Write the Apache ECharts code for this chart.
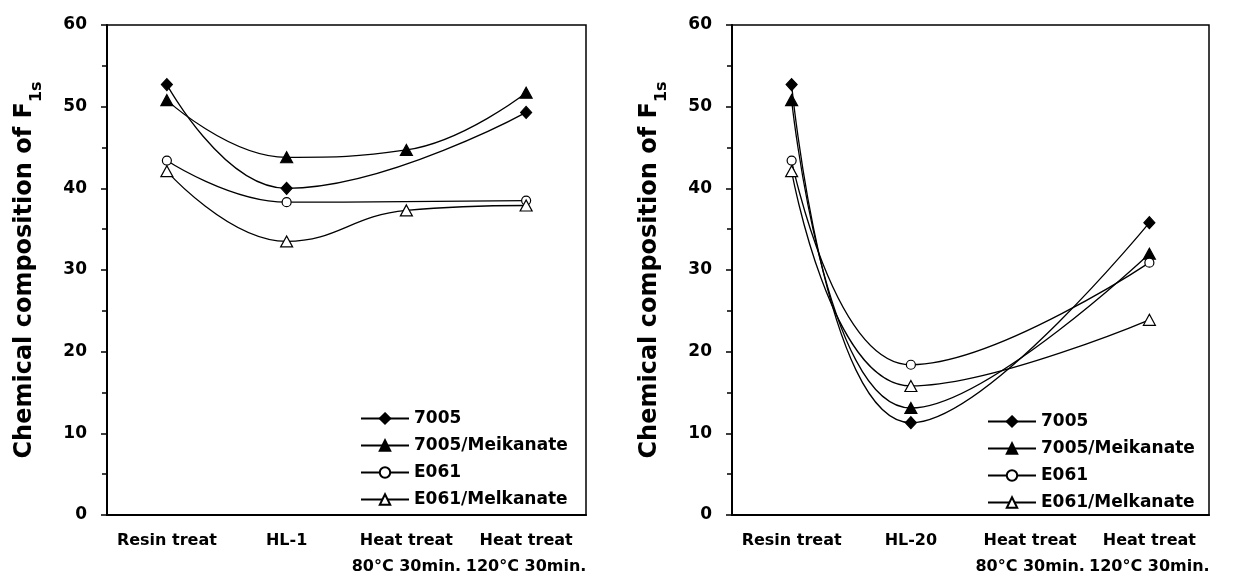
<!DOCTYPE html>
<html>
<head>
<meta charset="utf-8">
<script src="https://cdn.jsdelivr.net/npm/echarts@6/dist/echarts.min.js"></script>
<style>
html,body{margin:0;padding:0;background:#fff;}
#main{width:1245px;height:580px;}
</style>
</head>
<body>
<div id="main"></div>
<script>
// ---- data ----
var seriesNames = ['7005', '7005/Meikanate', 'E061', 'E061/Melkanate'];
var categoriesLeft = ['Resin treat', 'HL-1', 'Heat treat\n80°C 30min.', 'Heat treat\n120°C 30min.'];
var categoriesRight = ['Resin treat', 'HL-20', 'Heat treat\n80°C 30min.', 'Heat treat\n120°C 30min.'];
var yTicks = [0, 10, 20, 30, 40, 50, 60];

var left7005 = [52.7, 40.0, null, 49.3];
var left7005Meik = [50.8, 43.8, 44.7, 51.7];
var leftE061 = [43.4, 38.3, null, 38.5];
var leftE061Melk = [42.1, 33.5, 37.3, 37.9];

var right7005 = [52.7, 11.3, null, 35.8];
var right7005Meik = [50.8, 13.1, null, 32.0];
var rightE061 = [43.4, 18.4, null, 30.9];
var rightE061Melk = [42.1, 15.8, null, 23.9];

// ---- styles ----
var FONT = 'DejaVu Sans, Liberation Sans, Arial, sans-serif';
var markers = [
  {symbol: 'diamond', symbolSize: [11, 12], fill: '#000'},
  {symbol: 'triangle', symbolSize: [12, 11], fill: '#000'},
  {symbol: 'circle', symbolSize: 9, fill: '#fff'},
  {symbol: 'triangle', symbolSize: [12, 11], fill: '#fff'}
];

function makeSeries(name, idx, data, axisIndex) {
  var m = markers[idx];
  return {
    name: name,
    type: 'line',
    xAxisIndex: axisIndex,
    yAxisIndex: axisIndex,
    data: data,
    smooth: 0.45,
    connectNulls: true,
    symbol: m.symbol,
    symbolSize: m.symbolSize,
    showAllSymbol: true,
    lineStyle: {color: '#000', width: 1.3},
    itemStyle: {color: m.fill, borderColor: '#000', borderWidth: 1.2},
    emphasis: {disabled: true},
    animation: false
  };
}

function xAxisDef(gridIndex, cats) {
  return {
    type: 'category',
    gridIndex: gridIndex,
    data: cats,
    boundaryGap: true,
    axisLine: {lineStyle: {color: '#000', width: 2}},
    axisTick: {alignWithLabel: true, length: 6, lineStyle: {color: '#000', width: 1.5}},
    axisLabel: {color: '#000', fontFamily: FONT, fontWeight: 'bold', fontSize: 16, lineHeight: 26, margin: 13, interval: 0},
    splitLine: {show: false}
  };
}

function yAxisDef(gridIndex) {
  return {
    type: 'value',
    gridIndex: gridIndex,
    min: yTicks[0],
    max: yTicks[yTicks.length - 1],
    interval: 10,
    axisLine: {show: true, lineStyle: {color: '#000', width: 2}},
    axisTick: {show: true, length: 6, lineStyle: {color: '#000', width: 1.5}},
    minorTick: {show: true, splitNumber: 2, length: 5, lineStyle: {color: '#000', width: 1.5}},
    axisLabel: {color: '#000', fontFamily: FONT, fontWeight: 'bold', fontSize: 17, margin: 20},
    splitLine: {show: false},
    name: '{m|Chemical composition of F}{s|1s}',
    nameLocation: 'middle',
    nameRotate: 90,
    nameGap: 62,
    nameTextStyle: {
      rich: {
        m: {fontFamily: FONT, fontWeight: 'bold', fontSize: 24, color: '#000', lineHeight: 24, verticalAlign: 'top'},
        s: {fontFamily: FONT, fontWeight: 'bold', fontSize: 16, color: '#000', lineHeight: 32, verticalAlign: 'bottom'}
      }
    }
  };
}

function legendDef(leftPx, topPx) {
  return {
    orient: 'vertical',
    left: leftPx,
    top: topPx,
    itemWidth: 48,
    itemHeight: 13,
    itemGap: 10,
    data: seriesNames,
    textStyle: {color: '#000', fontFamily: FONT, fontWeight: 'bold', fontSize: 17, lineHeight: 16},
    selectedMode: false
  };
}

var chart = echarts.init(document.getElementById('main'), null, {renderer: 'canvas'});
chart.setOption({
  backgroundColor: '#fff',
  animation: false,
  grid: [
    {left: 107, top: 25, width: 479, height: 493, show: true, borderColor: '#000', borderWidth: 1.5, backgroundColor: 'transparent'},
    {left: 732, top: 25, width: 477, height: 493, show: true, borderColor: '#000', borderWidth: 1.5, backgroundColor: 'transparent'}
  ],
  xAxis: [xAxisDef(0, categoriesLeft), xAxisDef(1, categoriesRight)],
  yAxis: [yAxisDef(0), yAxisDef(1)],
  legend: [legendDef(355, 405), legendDef(982, 408)],
  series: [
    makeSeries(seriesNames[0], 0, left7005, 0),
    makeSeries(seriesNames[1], 1, left7005Meik, 0),
    makeSeries(seriesNames[2], 2, leftE061, 0),
    makeSeries(seriesNames[3], 3, leftE061Melk, 0),
    makeSeries(seriesNames[0], 0, right7005, 1),
    makeSeries(seriesNames[1], 1, right7005Meik, 1),
    makeSeries(seriesNames[2], 2, rightE061, 1),
    makeSeries(seriesNames[3], 3, rightE061Melk, 1)
  ]
});
</script>
</body>
</html>
